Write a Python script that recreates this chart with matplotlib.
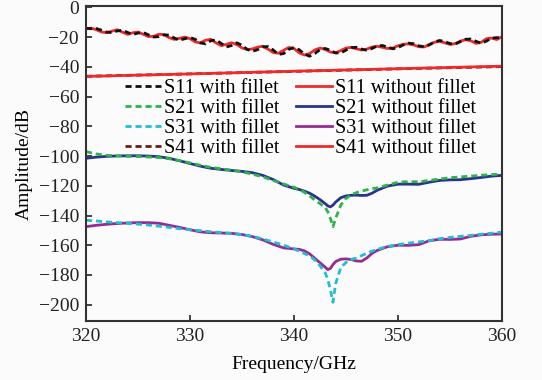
import numpy as np
import matplotlib
matplotlib.use("Agg")
import matplotlib.pyplot as plt

plt.rcParams['font.family'] = ['Liberation Serif', 'DejaVu Serif']

# S11 curves, read every 0.5 GHz
f11 = np.arange(320, 360.01, 0.5)
s11_without = [-14.2, -13.9, -15.0, -16.5, -17.0, -15.9, -15.0, -16.6, -18.1, -17.0,
               -16.5, -18.0, -19.6, -19.4, -18.0, -18.3, -20.3, -21.5, -20.8, -19.9,
               -21.0, -23.2, -23.8, -22.0, -21.4, -23.8, -25.7, -24.8, -23.7, -25.0,
               -27.2, -28.3, -27.9, -26.7, -26.1, -28.0, -30.3, -30.8, -28.8, -26.9,
               -27.6, -30.5, -32.0, -31.0, -28.6, -27.3, -28.2, -30.0, -30.5, -29.0,
               -27.3, -26.9, -27.8, -28.6, -28.0, -26.6, -26.1, -26.8, -27.6, -27.3,
               -25.8, -24.8, -24.5, -25.2, -26.4, -26.6, -25.0, -23.4, -22.8, -23.8,
               -24.9, -24.3, -22.6, -21.7, -22.4, -24.2, -23.5, -21.0, -20.6, -21.6,
               -19.6]
s11_with = [-14.0, -14.3, -14.2, -15.3, -16.6, -16.9, -15.8, -15.3, -16.8, -18.2,
            -17.2, -16.8, -18.4, -19.9, -19.6, -18.4, -18.6, -20.6, -22.0, -21.0,
            -20.2, -21.4, -23.8, -24.5, -22.4, -21.8, -24.2, -26.6, -25.6, -23.8,
            -25.4, -28.2, -29.5, -28.4, -26.5, -26.3, -28.6, -31.6, -31.0, -28.2,
            -27.0, -28.4, -31.4, -32.8, -31.0, -28.4, -27.6, -28.8, -30.6, -30.6,
            -28.7, -27.0, -26.8, -28.0, -28.8, -27.6, -25.9, -25.6, -26.7, -27.8,
            -27.0, -25.2, -24.0, -24.4, -25.8, -26.4, -25.2, -23.2, -22.2, -22.9,
            -24.3, -24.6, -23.0, -21.4, -21.2, -22.8, -24.0, -22.6, -20.6, -20.3,
            -20.2]

# S41 curves
f41 = [320, 330, 340, 350, 360]
s41_without = [-46.4, -44.7, -42.9, -41.2, -39.5]
s41_with = [-46.3, -44.7, -43.0, -41.3, -39.8]

# S21 / S31 curves
f2 = [320, 321, 322, 323, 324, 325, 326, 327, 328, 329, 330, 331, 332, 333, 334,
      335, 336, 337, 338, 339, 340, 340.5, 341, 341.5, 342, 342.5, 343, 343.25,
      343.5, 343.75, 344, 344.5, 345, 345.5, 346, 346.5, 347, 347.5, 348, 349,
      350, 351, 352, 353, 354, 355, 356, 357, 358, 359, 360]
s21_without = [-101.5, -100.7, -100.2, -99.9, -99.8, -99.8, -100.0, -100.4, -101.5, -103.2,
               -105.0, -106.8, -108.2, -109.0, -109.7, -110.3, -111.2, -113.0, -115.8, -119.5,
               -121.7, -122.5, -123.6, -125.0, -127.0, -129.3, -132.0, -133.5, -134.2, -133.0,
               -131.0, -128.0, -126.8, -126.4, -126.3, -126.5, -126.4, -125.0, -123.0, -120.2,
               -118.9, -118.9, -119.0, -117.6, -116.4, -116.0, -115.9, -115.2, -114.4, -113.5,
               -113.0]
s21_with = [-97.0, -98.6, -99.5, -99.9, -100.2, -100.3, -100.6, -101.0, -101.8, -103.0,
            -104.6, -106.2, -107.6, -108.6, -109.5, -110.6, -112.2, -114.0, -116.4, -118.8,
            -121.0, -122.4, -124.4, -126.8, -129.6, -132.0, -134.5, -137.5, -142.0, -147.5,
            -142.0, -133.0, -128.5, -126.0, -124.6, -123.6, -122.7, -122.0, -121.4, -119.5,
            -117.6, -117.2, -117.3, -116.4, -115.4, -114.6, -114.0, -113.5, -112.9, -112.5,
            -112.2]
s31_without = [-147.5, -146.6, -145.9, -145.4, -145.0, -144.8, -144.8, -145.2, -146.6, -148.0,
               -149.6, -151.0, -151.6, -151.8, -152.0, -152.8, -154.2, -156.4, -159.4, -161.8,
               -162.5, -162.8, -163.8, -165.8, -168.8, -171.8, -174.8, -176.4, -175.6, -173.0,
               -171.0, -169.4, -169.2, -169.6, -170.6, -170.8, -168.6, -165.5, -163.5, -161.0,
               -160.0, -160.1, -159.6, -157.0, -156.0, -156.1, -155.8, -154.0, -153.0, -152.6,
               -152.4]
s31_with = [-143.2, -143.7, -144.3, -144.8, -145.3, -145.8, -146.4, -147.2, -148.0, -148.9,
            -149.6, -150.2, -150.9, -151.5, -152.0, -152.9, -154.0, -155.8, -157.8, -160.0,
            -162.5, -164.0, -165.6, -167.0, -170.0, -173.8, -178.6, -183.0, -190.0, -198.4,
            -186.0, -175.0, -171.6, -169.6, -168.6, -167.0, -165.4, -164.0, -162.8, -160.8,
            -159.6, -158.6, -157.8, -156.9, -155.6, -154.8, -154.0, -153.4, -152.6, -151.9,
            -151.2]

bg = '#fbfbfb'
fig = plt.figure(figsize=(5.42, 3.80), dpi=100, facecolor=bg)
ax = fig.add_axes([86/542, 1-321/380, 416/542, 315/380], facecolor=bg)

dash = (0, (2.2, 1.4))
lw = 2.0

# solid "without fillet"
l_s11b, = ax.plot(f11, s11_without, color='#ee2a2a', lw=lw, label='S11 without fillet')
l_s21b, = ax.plot(f2, s21_without, color='#27348b', lw=lw, label='S21 without fillet')
l_s31b, = ax.plot(f2, s31_without, color='#952c92', lw=lw, label='S31 without fillet')
l_s41a, = ax.plot(f41, s41_with, color='#6a1c1c', lw=lw, ls=dash, label='S41 with fillet')
l_s41b, = ax.plot(f41, s41_without, color='#ee2a2a', lw=lw, label='S41 without fillet')
# dashed "with fillet"
l_s11a, = ax.plot(f11, s11_with, color='#111111', lw=lw, ls=dash, label='S11 with fillet')
l_s21a, = ax.plot(f2, s21_with, color='#2db34a', lw=lw, ls=dash, label='S21 with fillet')
l_s31a, = ax.plot(f2, s31_with, color='#22bcd6', lw=lw, ls=dash, label='S31 with fillet')

ax.set_xlim(320, 360)
ax.set_ylim(-211, 1)
ax.set_xticks([320, 330, 340, 350, 360])
ax.set_yticks(np.arange(0, -201, -20))
ax.tick_params(direction='in', length=4, width=1.2, labelsize=14, pad=5, colors='#222222')
for s in ax.spines.values():
    s.set_linewidth(1.5)
    s.set_color('#333333')

ax.set_xlabel('Frequency/GHz', fontsize=14, labelpad=8)
ax.set_ylabel('Amplitude/dB', fontsize=14, labelpad=4)

handles = [l_s11a, l_s21a, l_s31a, l_s41a, l_s11b, l_s21b, l_s31b, l_s41b]
ax.legend(handles=handles, labels=[h.get_label() for h in handles], ncol=2,
          loc='upper left', bbox_to_anchor=(125/542, 1-79/380),
          bbox_transform=fig.transFigure, frameon=False, fontsize=14.5,
          handlelength=1.8, handletextpad=0.15, labelspacing=0.05,
          columnspacing=0.8, borderpad=0, borderaxespad=0)

fig.savefig('out.png', dpi=100, facecolor=bg)
